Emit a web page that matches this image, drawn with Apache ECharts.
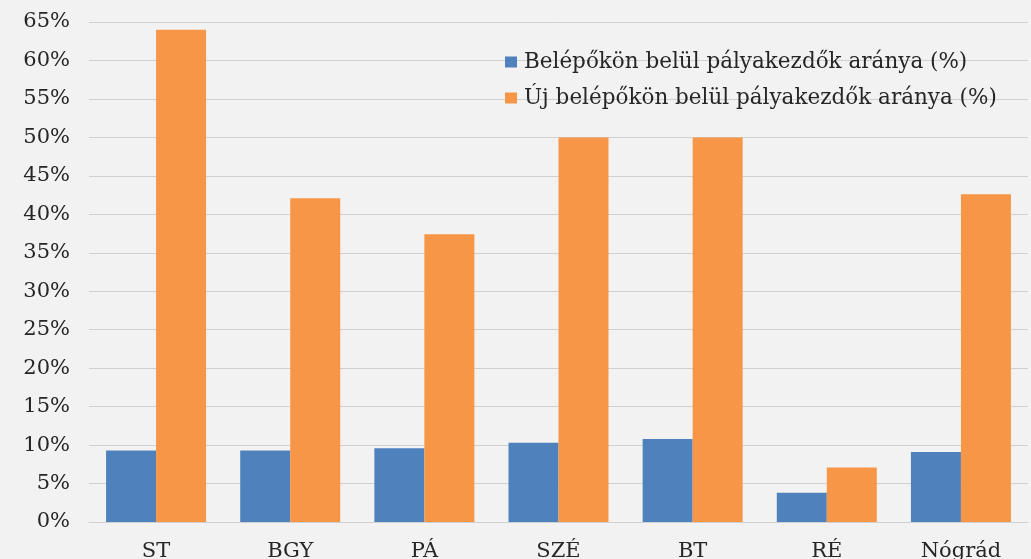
<!DOCTYPE html>
<html>
<head>
<meta charset="utf-8">
<script src="https://cdn.jsdelivr.net/npm/echarts@6/dist/echarts.min.js"></script>
<style>
html, body { margin: 0; padding: 0; background: #f2f2f2; }
#main { width: 1031px; height: 559px; }
</style>
</head>
<body>
<div id="main"></div>
<script>
// adatok
var categories = ['ST', 'BGY', 'PÁ', 'SZÉ', 'BT', 'RÉ', 'Nógrád'];
var seriesNames = ['Belépőkön belül pályakezdők aránya (%)', 'Új belépőkön belül pályakezdők aránya (%)'];
var belepok = [9.3, 9.3, 9.6, 10.3, 10.8, 3.8, 9.1];
var ujBelepok = [64.0, 42.1, 37.4, 50.0, 50.0, 7.1, 42.6];

var font = 'DejaVu Serif';
var myChart = echarts.init(document.getElementById('main'));

option = {
    backgroundColor: '#f2f2f2',
    animation: false,
    grid: { left: 89, right: 3, top: 22, bottom: 37, containLabel: false, outerBoundsMode: 'none' },
    legend: {
        orient: 'vertical',
        left: 505,
        top: 51,
        padding: 0,
        itemWidth: 12,
        itemHeight: 11,
        itemGap: 14,
        icon: 'rect',
        textStyle: { fontFamily: font, fontSize: 21.5, color: '#262626', padding: [0, 0, 0, 2] },
        data: seriesNames
    },
    xAxis: {
        type: 'category',
        data: categories,
        axisTick: { show: false },
        axisLine: { lineStyle: { color: '#d0d0d0' } },
        axisLabel: { fontFamily: font, fontSize: 21, color: '#262626', margin: 19 }
    },
    yAxis: {
        type: 'value',
        min: 0,
        max: 65,
        interval: 5,
        axisLabel: { formatter: '{value}%', fontFamily: font, fontSize: 21, color: '#262626', margin: 19 },
        splitLine: { lineStyle: { color: '#d0d0d0' } }
    },
    series: [
        {
            name: seriesNames[0],
            type: 'bar',
            barWidth: 50,
            barGap: '0%',
            itemStyle: { color: '#4f81bd' },
            data: belepok
        },
        {
            name: seriesNames[1],
            type: 'bar',
            barWidth: 50,
            barGap: '0%',
            itemStyle: { color: '#f79646' },
            data: ujBelepok
        }
    ]
};
myChart.setOption(option);
</script>
</body>
</html>
